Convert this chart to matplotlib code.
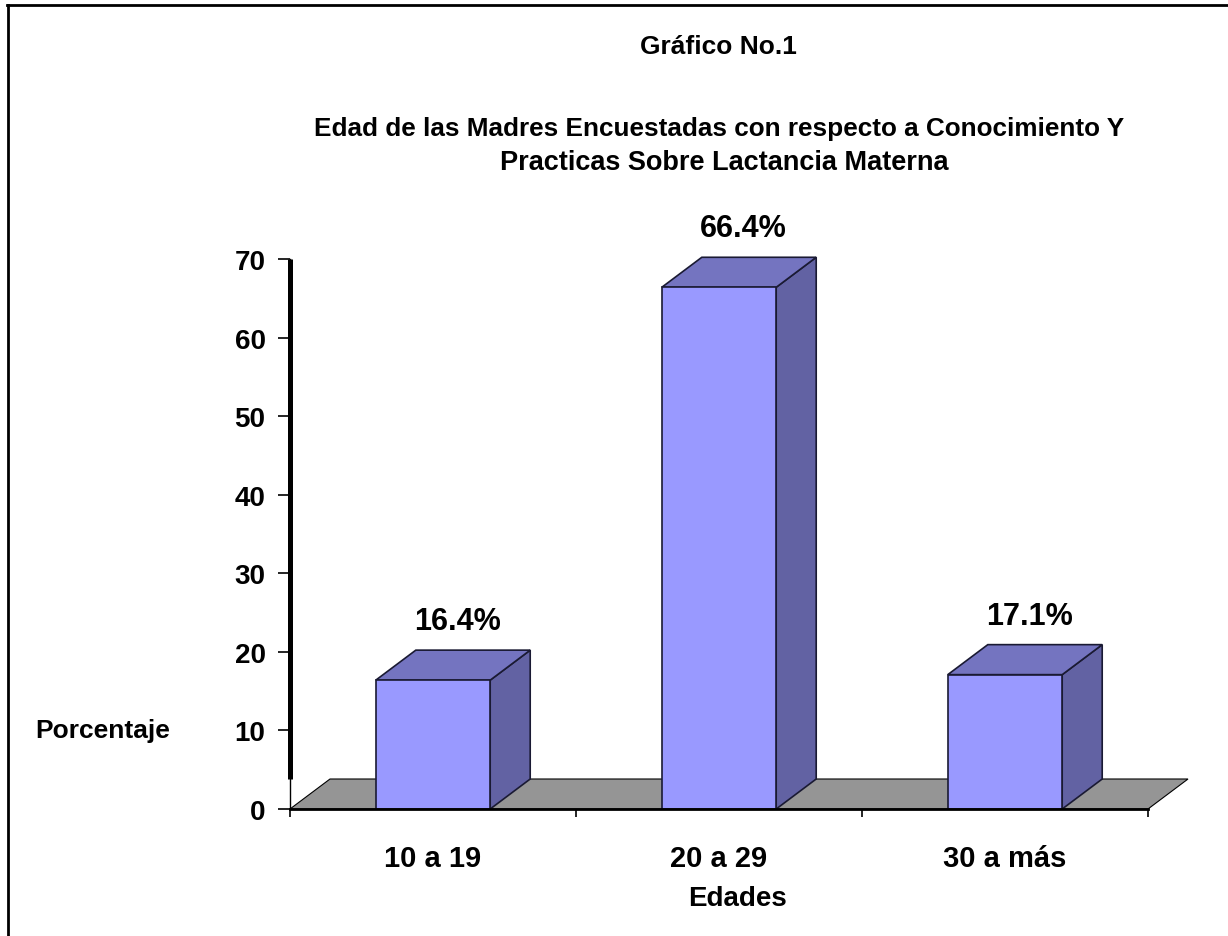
import matplotlib
matplotlib.use("Agg")
import matplotlib.pyplot as plt
from matplotlib.patches import Polygon
from matplotlib.lines import Line2D

# --- data -------------------------------------------------------------
categories = ["10 a 19", "20 a 29", "30 a más"]
percentages = [16.4, 66.4, 17.1]
value_labels = ["16.4%", "66.4%", "17.1%"]
y_ticks = [0, 10, 20, 30, 40, 50, 60, 70]

title_main = "Gráfico No.1"
title_sub = ["Edad de las Madres Encuestadas con respecto a Conocimiento Y",
             "Practicas Sobre Lactancia Materna"]
y_title = "Porcentaje"
x_title = "Edades"

# --- styling ----------------------------------------------------------
FONT = "Liberation Sans"
FRONT = "#9999FF"
TOP = "#7474C0"
SIDE = "#6262A3"
FLOOR = "#959595"
EDGE = "#1a1a33"

W, H, DPI = 1228, 937, 100
fig = plt.figure(figsize=(W / DPI, H / DPI), dpi=DPI)
fig.patch.set_facecolor("white")

# plot area in pixels (left, bottom-from-top, right, top-from-top)
px_l, px_b, px_r, px_t = 290, 810, 1148, 260
ax = fig.add_axes([px_l / W, (H - px_b) / H, (px_r - px_l) / W, (px_b - px_t) / H])
ax.set_xlim(0, len(categories))
ax.set_ylim(0, 70)
ax.set_facecolor("none")

# depth of the 3-D look, pixels converted to data units
depth_px_x, depth_px_y = 40, 30
ddx = depth_px_x * len(categories) / (px_r - px_l)
ddy = depth_px_y * 70 / (px_b - px_t)

# floor
floor = Polygon([(0, 0), (len(categories), 0), (len(categories) + ddx, ddy), (ddx, ddy)],
                closed=True, facecolor=FLOOR, edgecolor="black", lw=0.8, zorder=1,
                clip_on=False)
ax.add_patch(floor)

# bars drawn as front / top / side faces
bar_w = 0.4
for i, (v, lab) in enumerate(zip(percentages, value_labels)):
    x0 = i + 0.5 - bar_w / 2
    x1 = i + 0.5 + bar_w / 2
    side = Polygon([(x1, 0), (x1 + ddx, ddy), (x1 + ddx, v + ddy), (x1, v)],
                   closed=True, facecolor=SIDE, edgecolor=EDGE, lw=1.2, zorder=2,
                   clip_on=False)
    top = Polygon([(x0, v), (x1, v), (x1 + ddx, v + ddy), (x0 + ddx, v + ddy)],
                  closed=True, facecolor=TOP, edgecolor=EDGE, lw=1.2, zorder=2,
                  clip_on=False)
    front = Polygon([(x0, 0), (x1, 0), (x1, v), (x0, v)],
                    closed=True, facecolor=FRONT, edgecolor=EDGE, lw=1.2, zorder=3,
                    clip_on=False)
    for p in (side, top, front):
        ax.add_patch(p)
    ax.annotate(lab, xy=(i + 0.5 + ddx / 2, v + ddy), xytext=(4, 14),
                textcoords="offset pixels", ha="center", va="bottom",
                fontsize=22, fontweight="bold", family=FONT, zorder=5,
                annotation_clip=False)

# axes
for s in ("top", "right"):
    ax.spines[s].set_visible(False)
ax.spines["left"].set_linewidth(1.0)
ax.spines["bottom"].set_linewidth(2.0)
ax.spines["bottom"].set_zorder(4)
ax.add_line(Line2D([0, 0], [ddy, 70], color="black", lw=3.6, zorder=4,
                   solid_capstyle="butt", clip_on=False))

ax.set_yticks(y_ticks)
ax.set_yticklabels([str(t) for t in y_ticks])
ax.tick_params(axis="y", direction="out", length=8.6, width=1.2, pad=9,
               labelsize=20)
for t in ax.get_yticklabels():
    t.set_fontweight("bold")
    t.set_family(FONT)

ax.set_xticks(range(len(categories) + 1))
ax.set_xticklabels([""] * (len(categories) + 1))
ax.tick_params(axis="x", which="major", direction="out", length=6, width=1.2)
ax.set_xticks([i + 0.5 for i in range(len(categories))], minor=True)
ax.set_xticklabels(categories, minor=True)
ax.tick_params(axis="x", which="minor", length=0, pad=25, labelsize=21)
for t in ax.get_xticklabels(minor=True):
    t.set_fontweight("bold")
    t.set_family(FONT)


def fig_text(x_px, y_px, s, size, **kw):
    fig.text(x_px / W, 1 - y_px / H, s, ha="center", va="center", fontsize=size,
             fontweight="bold", family=FONT, **kw)


fig_text(718, 47, title_main, 19)
fig_text(719, 129, title_sub[0], 18.8)
fig_text(724, 163, title_sub[1], 19.5)
fig_text(103, 731, y_title, 19)
fig_text(738, 899, x_title, 20)

# outer frame (top and left edges)
fig.add_artist(Line2D([8 / W, 8 / W], [0, 1 - 5.5 / H], color="black", lw=2,
                      transform=fig.transFigure))
fig.add_artist(Line2D([7 / W, 1], [1 - 6 / H, 1 - 6 / H], color="black", lw=2,
                      transform=fig.transFigure))

fig.savefig("out.png", dpi=DPI, facecolor="white")
